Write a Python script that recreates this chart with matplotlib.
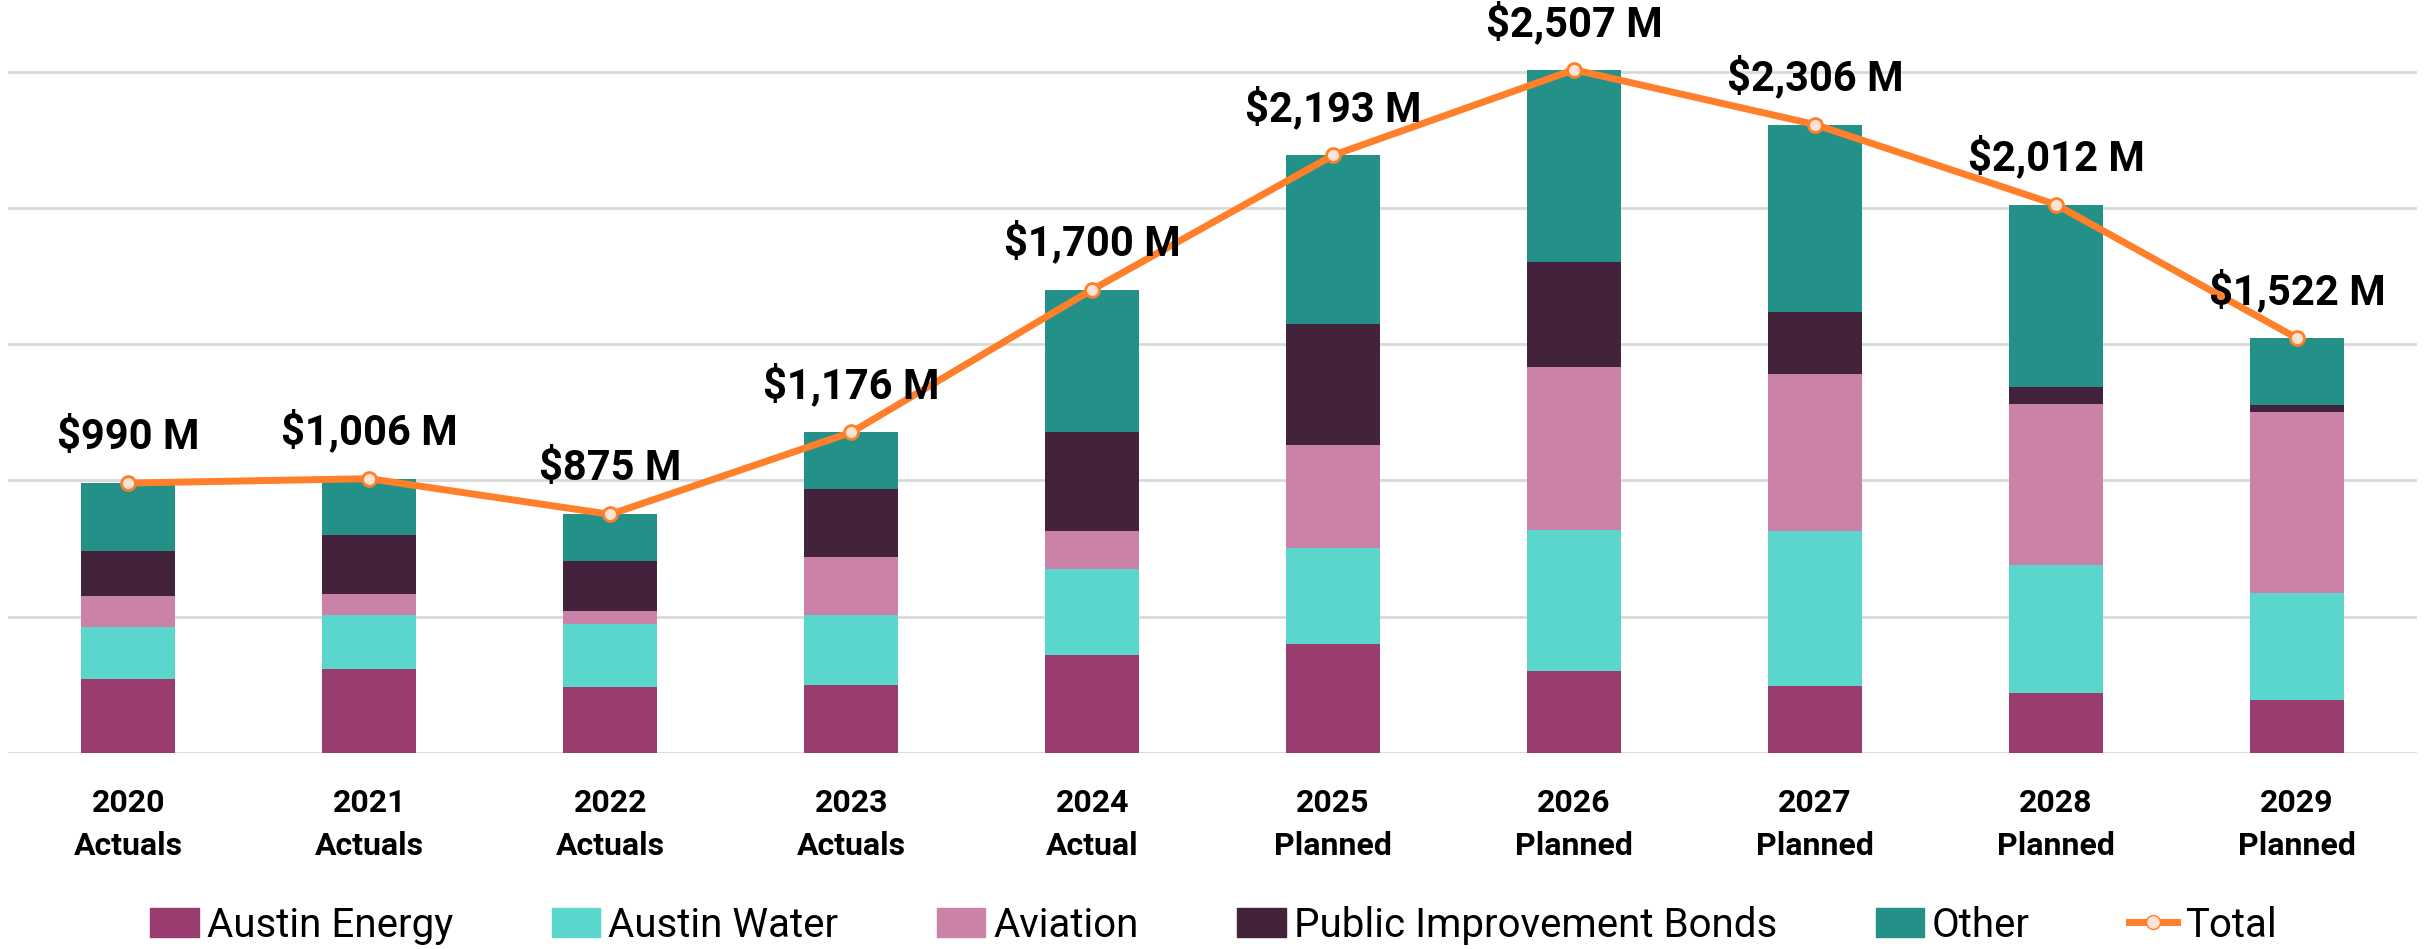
import matplotlib
matplotlib.use('Agg')
import matplotlib.pyplot as plt
from matplotlib import font_manager
from matplotlib.lines import Line2D
from matplotlib.patches import Patch
import numpy as np

# Capital spending by fund, $ millions
years = ['2020\nActuals', '2021\nActuals', '2022\nActuals', '2023\nActuals', '2024\nActual',
         '2025\nPlanned', '2026\nPlanned', '2027\nPlanned', '2028\nPlanned', '2029\nPlanned']
austin_energy = [270, 306, 242, 250, 358, 400, 300, 245, 221, 193]
austin_water = [191, 200, 232, 254, 316, 352, 517, 569, 467, 392]
aviation = [113, 76, 47, 214, 140, 377, 600, 576, 592, 664]
bonds = [168, 217, 184, 251, 362, 445, 385, 229, 63, 27]
other = [248, 207, 170, 207, 524, 619, 705, 687, 669, 246]
totals = [990, 1006, 875, 1176, 1700, 2193, 2507, 2306, 2012, 1522]

series = [
    ('Austin Energy', austin_energy, '#993D6F'),
    ('Austin Water', austin_water, '#5AD6CC'),
    ('Aviation', aviation, '#CA82A8'),
    ('Public Improvement Bonds', bonds, '#43223B'),
    ('Other', other, '#239187'),
]

names = {f.name for f in font_manager.fontManager.ttflist}
font = 'Liberation Sans Narrow' if 'Liberation Sans Narrow' in names else 'Roboto'
plt.rcParams['font.family'] = [font, 'DejaVu Sans']

fig = plt.figure(figsize=(24.27, 9.49), dpi=100)
ax = fig.add_axes([0.0033, 0.2068, 0.9927, 0.7932])

x = np.arange(len(years))
bottom = np.zeros(len(years))
for name, vals, color in series:
    ax.bar(x, vals, width=0.39, bottom=bottom, color=color, label=name, zorder=2)
    bottom += np.array(vals)

ax.plot(x, totals, color='#FF7F2A', lw=5, marker='o', markersize=10,
        markerfacecolor='#FDE3D3', markeredgecolor='#FF7F2A', markeredgewidth=2, zorder=3)

for xi, t in zip(x, totals):
    ax.annotate(f'${t:,} M', (xi, t), xytext=(0, 18), textcoords='offset points',
                ha='center', va='bottom', fontsize=30, fontweight='bold')

ax.set_xlim(-0.5, 9.5)
ax.set_ylim(0, 2763)
ax.set_yticks(np.arange(0, 2501, 500))
ax.yaxis.grid(True, color='#D9D9D9', lw=2, zorder=0)
ax.set_axisbelow(True)
ax.tick_params(left=False, labelleft=False, bottom=False)
for s in ax.spines.values():
    s.set_visible(False)
ax.set_xticks(x)
ax.set_xticklabels(years, fontsize=23, fontweight='bold', linespacing=1.55)
ax.tick_params(axis='x', pad=22)

handles = [Patch(color=c, label=n) for n, _, c in series]
handles.append(Line2D([], [], color='#FF7F2A', lw=5, marker='o', markersize=10,
                      markerfacecolor='#FDE3D3', markeredgecolor='#FF7F2A', label='Total'))
fig.legend(handles=handles, loc='center', bbox_to_anchor=(0.5, 0.025), ncol=6,
           frameon=False, fontsize=29, handlelength=1.2, handleheight=0.75,
           columnspacing=2.45, handletextpad=0.2)

fig.savefig('out.png', dpi=100)
